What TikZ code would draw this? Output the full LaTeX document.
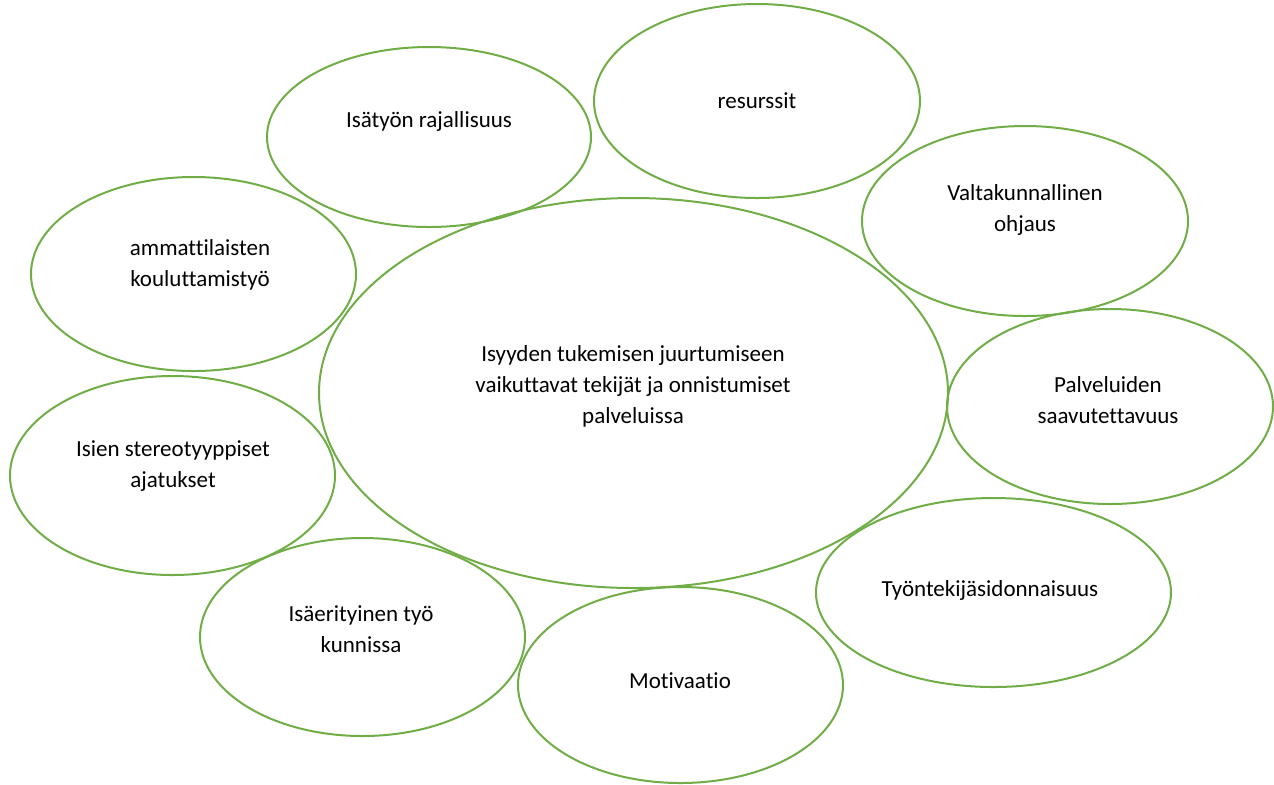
\documentclass[tikz,border=0pt]{standalone}
\usepackage{fontspec}
\setmainfont{Carlito}[Ligatures={NoCommon,NoContextual},Contextuals=NoAlternate]
\usetikzlibrary{shapes.geometric}
\definecolor{bubblegreen}{HTML}{70AD47}

\begin{document}
\begin{tikzpicture}[x=0.5pt,y=-0.5pt,
    bubble/.style={ellipse,draw=bubblegreen,line width=1pt,inner sep=0pt},
    bubbletext/.style={align=center,font=\fontsize{11.5}{15.5}\selectfont}]
  \useasboundingbox (0,0) rectangle (1274,784);
  % centre
  \node[bubble,minimum width=314.5pt,minimum height=195pt] (core) at (633.5,393) {};
  \node[bubbletext] (core-t) at (633,386)
    {Isyyden tukemisen juurtumiseen\\vaikuttavat tekijät ja onnistumiset\\palveluissa};
  % factors round it
  \foreach \Name/\X/\Y/\W/\H/\TX/\TY/\Text in {
      isatyo/429/137/162/90/429/121/{Isätyön rajallisuus},
      resurssit/757/101/163/97/757/101/{resurssit},
      valta/1025/221/163/95/1025/209.5/{Valtakunnallinen\\ohjaus},
      ammatti/193.5/274/162.5/97/200/265/{ammattilaisten\\kouluttamistyö},
      palvelu/1110/406.5/163/97.5/1108/400.5/{Palveluiden\\saavutettavuus},
      isien/172.5/475.5/162.5/99.5/173/466.5/{Isien stereotyyppiset\\ajatukset},
      isaerit/362.5/637/162.5/99/361/629.5/{Isäerityinen työ\\kunnissa},
      tyontek/993.5/592.5/177.5/94.5/990/590/{Työntekijäsidonnaisuus},
      motiv/680.5/685/162.5/98/680/681/{Motivaatio}}
  {
    \node[bubble,minimum width=\W pt,minimum height=\H pt] (\Name) at (\X,\Y) {};
    \node[bubbletext] (\Name-t) at (\TX,\TY) {\Text};
  }
\end{tikzpicture}
\end{document}
